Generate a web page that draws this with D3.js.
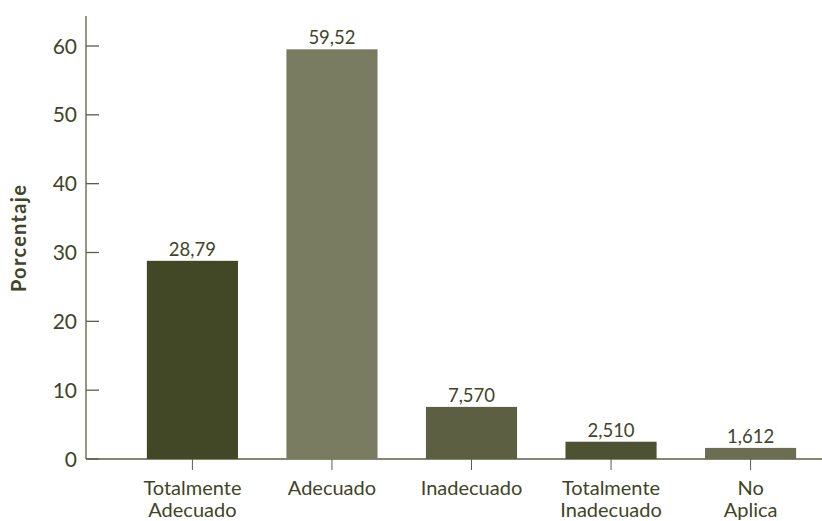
<!DOCTYPE html>
<html>
<head>
<meta charset="utf-8">
<script src="https://cdn.jsdelivr.net/npm/d3@7"></script>
<style>
  body { margin: 0; background: #fff; }
  text { font-family: Lato, "Open Sans", sans-serif; }
</style>
</head>
<body>
<div id="chart"></div>
<script>
// DATA
const categories = ["Totalmente Adecuado", "Adecuado", "Inadecuado", "Totalmente Inadecuado", "No Aplica"];
const catLines = [["Totalmente", "Adecuado"], ["Adecuado"], ["Inadecuado"], ["Totalmente", "Inadecuado"], ["No", "Aplica"]];
const values = [28.79, 59.52, 7.570, 2.510, 1.612];
const valueLabels = ["28,79", "59,52", "7,570", "2,510", "1,612"];
const barColors = ["#424826", "#7a7c62", "#5d5f43", "#4c5232", "#6c6e52"];
const yTicks = [0, 10, 20, 30, 40, 50, 60];

const width = 822, height = 521;
const axisColor = "#5b5f45", textColor = "#3f4526";

const svg = d3.select("#chart").append("svg")
  .attr("width", width)
  .attr("height", height);

// SCALES
const y = d3.scaleLinear().domain([0, 60]).range([459, 46]);
const x = d3.scaleBand().domain(categories).range([105, 838]).paddingInner(0.347).paddingOuter(0.3);
const x0 = 86;

// Y AXIS
svg.append("line")
  .attr("x1", x0).attr("x2", x0)
  .attr("y1", 16).attr("y2", y(0))
  .attr("stroke", axisColor).attr("stroke-width", 1.3);

const yg = svg.append("g").attr("transform", `translate(${x0},0)`);
yg.selectAll("line").data(yTicks).join("line")
  .attr("x1", 0).attr("x2", 13)
  .attr("y1", d => y(d)).attr("y2", d => y(d))
  .attr("stroke", axisColor).attr("stroke-width", 1.3);
yg.selectAll("text").data(yTicks).join("text")
  .attr("x", -9).attr("y", d => y(d))
  .attr("dy", "0.36em")
  .attr("text-anchor", "end")
  .attr("font-size", "21px")
  .attr("fill", textColor)
  .text(d => d);

// Y TITLE
svg.append("text")
  .attr("transform", `translate(26,238) rotate(-90)`)
  .attr("text-anchor", "middle")
  .attr("font-size", "20px")
  .attr("font-weight", "bold")
  .attr("letter-spacing", "1.3px")
  .attr("fill", textColor)
  .text("Porcentaje");

// X AXIS
svg.append("line")
  .attr("x1", x0).attr("x2", width)
  .attr("y1", y(0)).attr("y2", y(0))
  .attr("stroke", axisColor).attr("stroke-width", 1.3);

const xg = svg.append("g");
xg.selectAll("line").data(categories).join("line")
  .attr("x1", d => x(d) + x.bandwidth() / 2).attr("x2", d => x(d) + x.bandwidth() / 2)
  .attr("y1", y(0)).attr("y2", y(0) + 11)
  .attr("stroke", axisColor).attr("stroke-width", 1);

xg.selectAll("text").data(categories).join("text")
  .attr("x", d => x(d) + x.bandwidth() / 2)
  .attr("y", 495)
  .attr("text-anchor", "middle")
  .attr("font-size", "20px")
  .attr("fill", textColor)
  .each(function(d, i) {
    d3.select(this).selectAll("tspan").data(catLines[i]).join("tspan")
      .attr("x", x(d) + x.bandwidth() / 2)
      .attr("dy", (t, j) => j === 0 ? 0 : 22)
      .text(t => t);
  });

// BARS
svg.selectAll("rect.bar").data(values).join("rect")
  .attr("class", "bar")
  .attr("x", (d, i) => x(categories[i]))
  .attr("y", d => y(d))
  .attr("width", x.bandwidth())
  .attr("height", d => y(0) - y(d))
  .attr("fill", (d, i) => barColors[i]);

// VALUE LABELS
svg.selectAll("text.val").data(values).join("text")
  .attr("class", "val")
  .attr("x", (d, i) => x(categories[i]) + x.bandwidth() / 2)
  .attr("y", d => y(d) - 5)
  .attr("text-anchor", "middle")
  .attr("font-size", "18.5px")
  .attr("fill", textColor)
  .text((d, i) => valueLabels[i]);
</script>
</body>
</html>
